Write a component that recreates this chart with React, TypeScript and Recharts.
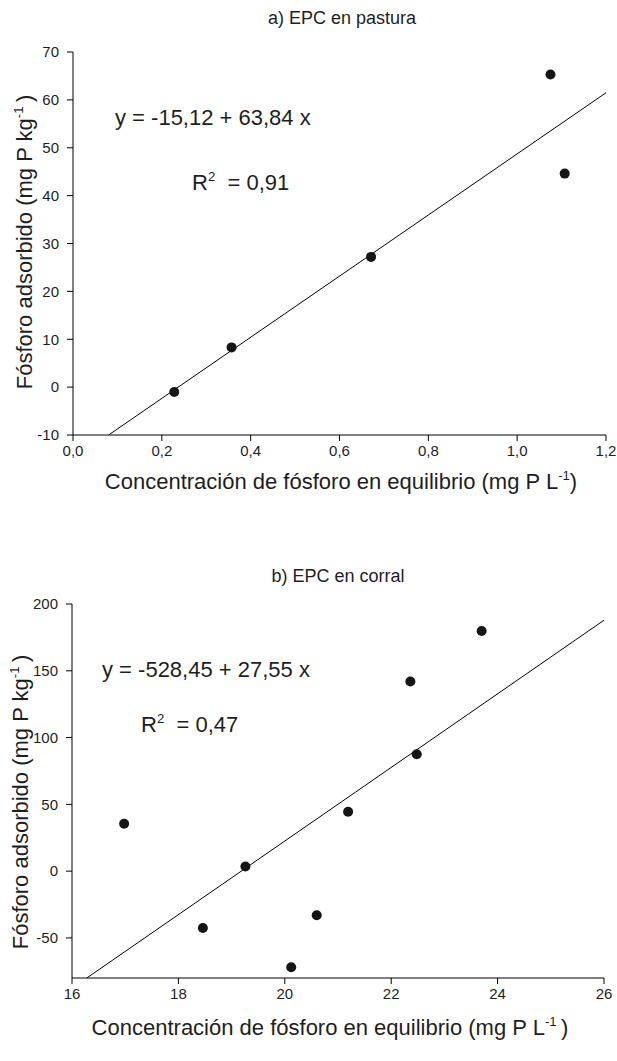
import React from "react";
import { ScatterChart, Scatter, XAxis, YAxis, ReferenceLine } from "recharts";

// Panel a) EPC en pastura
const pastX = [0.228, 0.357, 0.671, 1.075, 1.107];
const pastY = [-1.0, 8.3, 27.2, 65.3, 44.6];
const pastXTicks = [0, 0.2, 0.4, 0.6, 0.8, 1.0, 1.2];
const pastYTicks = [-10, 0, 10, 20, 30, 40, 50, 60, 70];
const pastCoef = [-15.12, 63.84];

// Panel b) EPC en corral
const corrX = [16.98, 18.46, 19.26, 20.12, 20.6, 21.19, 22.36, 22.48, 23.7];
const corrY = [35.5, -42.5, 3.5, -72, -33, 44.5, 142, 87.5, 179.8];
const corrXTicks = [16, 18, 20, 22, 24, 26];
const corrYTicks = [-50, 0, 50, 100, 150, 200];
const corrCoef = [-528.45, 27.55];

const FONT = "'Liberation Sans', Arial, Helvetica, sans-serif";
const TXT = "#1e1e1e";

const comma = (v: number, d: number) => v.toFixed(d).replace(".", ",");

const Dot = (p: any) => <circle cx={p.cx} cy={p.cy} r={5} fill="#151515" />;

const Sup = ({ children }: { children: React.ReactNode }) => (
  <sup style={{ fontSize: "0.6em", verticalAlign: "0.7em", lineHeight: 0 }}>{children}</sup>
);

type PanelProps = {
  height: number;
  plotLeft: number;
  plotRight: number;
  plotTop: number;
  plotBottom: number;
  xs: number[];
  ys: number[];
  xDomain: [number, number];
  yDomain: [number, number];
  xTicks: number[];
  yTicks: number[];
  xDec: number;
  coef: number[];
  title: string;
  titleX: number;
  titleY: number;
  eq: string;
  eqX: number;
  eqY: number;
  r2: string;
  r2X: number;
  r2Y: number;
  xLabelX: number;
  xLabelY: number;
  yLabelX: number;
  yLabelY: number;
  closeGap: boolean;
  xCloseGap: boolean;
};

function Panel(p: PanelProps) {
  const data = p.xs.map((x, i) => ({ x, y: p.ys[i] }));
  const [b0, b1] = p.coef;
  const xStart = Math.max(p.xDomain[0], (p.yDomain[0] - b0) / b1);
  const xEnd = p.xDomain[1];
  const seg = [
    { x: xStart, y: b0 + b1 * xStart },
    { x: xEnd, y: b0 + b1 * xEnd },
  ];
  const abs = (x: number, y: number, extra: any = {}) => ({
    position: "absolute" as const,
    left: x,
    top: y,
    whiteSpace: "nowrap" as const,
    fontFamily: FONT,
    color: TXT,
    lineHeight: 1,
    ...extra,
  });
  return (
    <div style={{ position: "relative", width: 617, height: p.height }}>
      <ScatterChart
        width={617}
        height={p.height}
        margin={{ top: p.plotTop, right: 617 - p.plotRight, bottom: 0, left: 0 }}
      >
        <XAxis
          type="number"
          dataKey="x"
          domain={p.xDomain}
          ticks={p.xTicks}
          interval={0}
          allowDataOverflow
          height={p.height - p.plotBottom}
          tickFormatter={(v: number) => comma(v, p.xDec)}
          tick={{ fontSize: 15, fill: TXT, fontFamily: FONT }}
          tickSize={6}
          tickMargin={4}
          stroke="#000"
          axisLine={{ stroke: "#000" }}
          tickLine={{ stroke: "#000" }}
        />
        <YAxis
          type="number"
          dataKey="y"
          domain={p.yDomain}
          ticks={p.yTicks}
          interval={0}
          allowDataOverflow
          width={p.plotLeft}
          tickFormatter={(v: number) => String(v)}
          tick={{ fontSize: 15, fill: TXT, fontFamily: FONT }}
          tickSize={6}
          tickMargin={8}
          stroke="#000"
          axisLine={{ stroke: "#000" }}
          tickLine={{ stroke: "#000" }}
        />
        <ReferenceLine segment={seg} stroke="#000" strokeWidth={1} ifOverflow="visible" />
        <Scatter data={data} shape={Dot} isAnimationActive={false} />
      </ScatterChart>
      <div style={abs(p.titleX, p.titleY, { fontSize: 18, transform: "translate(-50%,-50%)" })}>
        {p.title}
      </div>
      <div style={abs(p.eqX, p.eqY, { fontSize: 22, transform: "translateY(-50%)" })}>{p.eq}</div>
      <div style={abs(p.r2X, p.r2Y, { fontSize: 22, transform: "translateY(-50%)" })}>
        R<Sup>2</Sup>&nbsp; = {p.r2}
      </div>
      <div style={abs(p.xLabelX, p.xLabelY, { fontSize: 22, transform: "translate(-50%,-50%)" })}>
        Concentración de fósforo en equilibrio (mg P L<Sup>-1</Sup>
        {p.xCloseGap ? "\u2009)" : ")"}
      </div>
      <div
        style={abs(p.yLabelX, p.yLabelY, {
          fontSize: 22,
          transform: "translate(-50%,-50%) rotate(-90deg)",
        })}
      >
        Fósforo adsorbido (mg P kg<Sup>-1</Sup>
        {p.closeGap ? "\u2009)" : ")"}
      </div>
    </div>
  );
}

export default function App() {
  return (
    <div style={{ position: "absolute", left: 0, top: 0, width: 617, height: 1061, background: "#fff" }}>
      <Panel
        height={520}
        plotLeft={73}
        plotRight={606}
        plotTop={52}
        plotBottom={435}
        xs={pastX}
        ys={pastY}
        xDomain={[0, 1.2]}
        yDomain={[-10, 70]}
        xTicks={pastXTicks}
        yTicks={pastYTicks}
        xDec={1}
        coef={pastCoef}
        title="a) EPC en pastura"
        titleX={342}
        titleY={18}
        eq="y = -15,12 + 63,84 x"
        eqX={115}
        eqY={118}
        r2="0,91"
        r2X={192}
        r2Y={183}
        xLabelX={341}
        xLabelY={482}
        yLabelX={25}
        yLabelY={242}
        closeGap={true}
        xCloseGap={false}
      />
      <Panel
        height={541}
        plotLeft={72}
        plotRight={604}
        plotTop={84}
        plotBottom={458}
        xs={corrX}
        ys={corrY}
        xDomain={[16, 26]}
        yDomain={[-80, 200]}
        xTicks={corrXTicks}
        yTicks={corrYTicks}
        xDec={0}
        coef={corrCoef}
        title="b) EPC en corral"
        titleX={338}
        titleY={56}
        eq="y = -528,45 + 27,55 x"
        eqX={102}
        eqY={150}
        r2="0,47"
        r2X={141}
        r2Y={205}
        xLabelX={330}
        xLabelY={508}
        yLabelX={21}
        yLabelY={282}
        closeGap={true}
        xCloseGap={true}
      />
    </div>
  );
}
